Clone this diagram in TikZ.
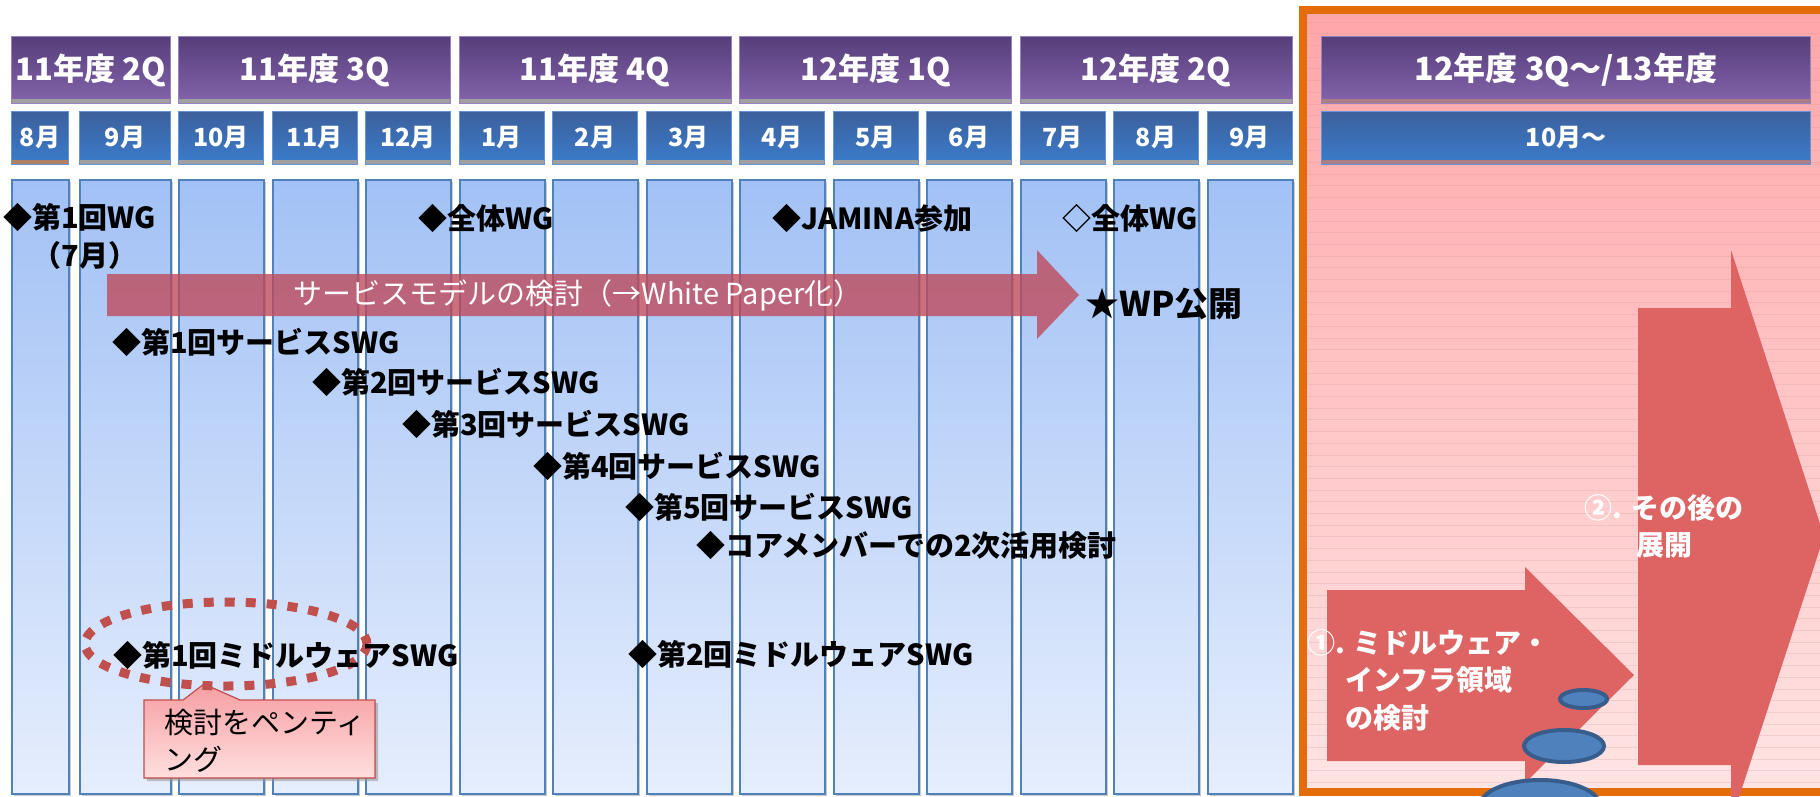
\documentclass[tikz,border=0pt]{standalone}
\usepackage{fontspec}
\newfontfamily\jp{Noto Sans CJK JP}
\usetikzlibrary{shadows}
\definecolor{qtop}{RGB}{86,62,122}
\definecolor{qbot}{RGB}{132,100,172}
\definecolor{qline}{RGB}{150,130,190}
\definecolor{mtop}{RGB}{60,96,156}
\definecolor{mbot}{RGB}{58,124,204}
\definecolor{mline}{RGB}{100,150,215}
\definecolor{stripgray}{RGB}{160,160,160}
\definecolor{strippink}{RGB}{170,125,135}
\definecolor{stripbrown}{RGB}{176,128,100}
\definecolor{coltop}{RGB}{162,193,245}
\definecolor{colbot}{RGB}{230,238,253}
\definecolor{colline}{RGB}{79,129,189}
\definecolor{pinktop}{RGB}{255,166,168}
\definecolor{pinkbot}{RGB}{255,228,228}
\definecolor{pinkline}{RGB}{210,150,150}
\definecolor{orangeb}{RGB}{228,108,10}
\definecolor{mauve}{RGB}{190,75,92}
\definecolor{redar}{RGB}{222,100,100}
\definecolor{dotred}{RGB}{192,80,77}
\definecolor{caltop}{RGB}{246,158,162}
\definecolor{calbot}{RGB}{255,222,222}
\definecolor{bubfill}{RGB}{79,129,189}
\definecolor{bubline}{RGB}{56,93,138}
\tikzset{
  col/.style={draw=colline, line width=2pt, top color=coltop, bottom color=colbot,
    minimum height=614pt, anchor=north west, inner sep=0pt,
    drop shadow={shadow xshift=2pt, shadow yshift=-2pt, fill=black!40, opacity=.5}},
  qhead/.style={draw=qline, line width=1pt, top color=qtop, bottom color=qbot,
    minimum height=67pt, anchor=north west, inner sep=0pt, text=white,
    font=\jp\bfseries\fontsize{31}{33}\selectfont,
    path picture={\fill[#1] (path picture bounding box.south west) rectangle ([yshift=5pt]path picture bounding box.south east);}},
  qhead/.default=stripgray,
  mhead/.style={draw=mline, line width=1pt, top color=mtop, bottom color=mbot,
    minimum height=53pt, anchor=north west, inner sep=0pt, text=white,
    font=\jp\bfseries\fontsize{25}{27}\selectfont,
    path picture={\fill[#1] (path picture bounding box.south west) rectangle ([yshift=5pt]path picture bounding box.south east);}},
  mhead/.default=stripgray,
  ev/.style={anchor=west, inner sep=0pt, text=black, font=\jp\bfseries\fontsize{29}{31}\selectfont},
  wl/.style={anchor=west, inner sep=0pt, text=white, font=\jp\bfseries\fontsize{28}{37}\selectfont},
  calltext/.style={anchor=west, inner sep=0pt, font=\jp\fontsize{29}{31}\selectfont},
  bubble/.style={fill=bubfill, draw=bubline, line width=4pt},
  redarrow/.style={fill=redar}
}
\begin{document}
\begin{tikzpicture}[x=1pt,y=-1pt]
\useasboundingbox (0,0) rectangle (1820,796);
\clip (0,0) rectangle (1820,796);
\fill[white] (0,0) rectangle (1820,796);

% ---------- month columns ----------
\node[col, minimum width=57pt] (c8a) at (11,179) {};
\node[col, minimum width=91pt] (c9a) at (79,179) {};
\foreach \i in {0,...,11}
  \node[col, minimum width=85pt] (c\i) at ({178+93.5*\i},179) {};

% ---------- quarter headers ----------
\node[qhead, minimum width=159pt] (q1) at (11,36) {11年度 2Q};
\node[qhead, minimum width=272pt] (q2) at (178,36) {11年度 3Q};
\node[qhead, minimum width=272pt] (q3) at (458.5,36) {11年度 4Q};
\node[qhead, minimum width=272pt] (q4) at (739,36) {12年度 1Q};
\node[qhead, minimum width=272pt] (q5) at (1019.5,36) {12年度 2Q};

% ---------- month headers ----------
\node[mhead=stripbrown, minimum width=57pt] (m8a) at (11,111) {8月};
\node[mhead, minimum width=91pt] (m9a) at (79,111) {9月};
\foreach \m [count=\i from 0] in {10月,11月,12月,1月,2月,3月,4月,5月,6月,7月,8月,9月}
  \node[mhead, minimum width=85pt] (m\i) at ({178+93.5*\i},111) {\m};

% ---------- orange region ----------
\fill[top color=pinktop, bottom color=pinkbot] (1303,10) rectangle (1840,792);
\foreach \yy in {22,33.7,...,790}
  \draw[pinkline, opacity=.25, line width=.8pt] (1307,\yy) -- (1820,\yy);
\draw[orangeb, line width=8pt] (1303,9.5) rectangle (1840,792);

\node[qhead=strippink, minimum width=489pt, font=\jp\bfseries\fontsize{32}{34}\selectfont] (q6) at (1321,36) {12年度 3Q～/13年度};
\node[mhead=strippink, minimum width=489pt] (m12) at (1321,111) {10月～};

% ---------- big red arrows ----------
\fill[redarrow] (1327,590) -- (1525,590) -- (1525,567) -- (1634,675) -- (1525,783) -- (1525,761) -- (1327,761) -- cycle;
\fill[redarrow] (1638,308) -- (1731,308) -- (1731,250) -- (1824,536) -- (1731,822) -- (1731,765) -- (1638,765) -- cycle;

\node[wl] (r1a) at (1307,643) {①. ミドルウェア・};
\node[wl] (r1b) at (1345,680) {インフラ領域};
\node[wl] (r1c) at (1345,718) {の検討};
\node[wl, anchor=center, align=center] (r2) at (1664,526) {②. その後の\\展開};

% bubbles
\draw[bubble] (1583.5,699) ellipse[x radius=23.5, y radius=9];
\draw[bubble] (1564,746) ellipse[x radius=40, y radius=16];
\draw[bubble] (1540,806) ellipse[x radius=60, y radius=26];

% ---------- service model arrow ----------
\fill[mauve, opacity=.8] (107,274) -- (1037,274) -- (1037,250) -- (1079,295) -- (1037,339) -- (1037,316) -- (107,316) -- cycle;
\node[inner sep=0pt, text=white, font=\jp\fontsize{29}{31}\selectfont] (arrtxt) at (578,295) {サービスモデルの検討（→White Paper化）};

% ---------- pending callout ----------
\fill[black!40, opacity=.6] (147,703) -- (186,703) -- (207,687) -- (243,703) -- (378,703) -- (378,781) -- (147,781) -- cycle;
\filldraw[draw=dotred, line width=1.2pt, top color=caltop, bottom color=calbot]
  (144,700) -- (183,700) -- (204,684) -- (240,700) -- (375,700) -- (375,778) -- (144,778) -- cycle;
\node[calltext] (k1) at (164,723) {検討をペンティ};
\node[calltext] (k2) at (164,759) {ング};

% dotted ellipse
\draw[dotred, line width=9pt, dash pattern=on 10pt off 11pt] (226,644) ellipse[x radius=141, y radius=42];

% ---------- events ----------
\node[ev] (e1) at (3,217) {◆第1回WG};
\node[ev, anchor=center] (e1b) at (85,255) {（7月）};
\node[ev] (e2) at (418,218) {◆全体WG};
\node[ev] (e3) at (772,218) {◆JAMINA参加};
\node[ev] (e4) at (1062,218) {◇全体WG};
\node[ev, font=\jp\bfseries\fontsize{34}{36}\selectfont] (e5) at (1085,304) {★WP公開};
\node[ev] (e6) at (112,342) {◆第1回サービスSWG};
\node[ev] (e7) at (312,382) {◆第2回サービスSWG};
\node[ev] (e8) at (402,424) {◆第3回サービスSWG};
\node[ev] (e9) at (533,466) {◆第4回サービスSWG};
\node[ev] (e10) at (625,507) {◆第5回サービスSWG};
\node[ev] (e11) at (696,545) {◆コアメンバーでの2次活用検討};
\node[ev] (e12) at (113,655) {◆第1回ミドルウェアSWG};
\node[ev] (e13) at (628,654) {◆第2回ミドルウェアSWG};
\end{tikzpicture}
\end{document}
